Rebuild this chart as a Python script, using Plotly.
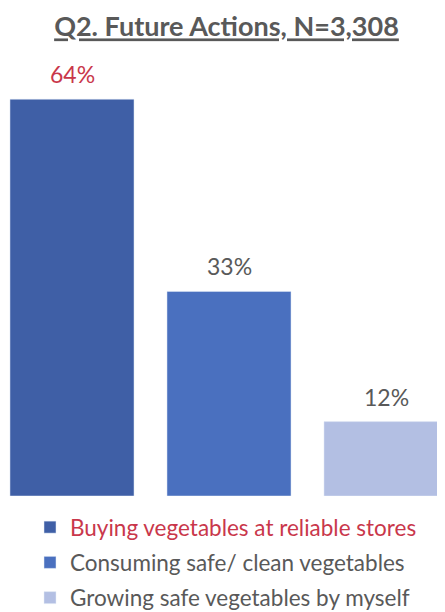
import plotly.graph_objects as go

categories = ["Buying vegetables at reliable stores",
              "Consuming safe/ clean vegetables",
              "Growing safe vegetables by myself"]
values = [64, 33, 12]
labels = ["64%", "33%", "12%"]
colors = ["#3F5FA6", "#4A70BF", "#B3BFE3"]
text_colors = ["#C9374B", "#595959", "#595959"]

W, H = 437, 604  # page body has an 8px margin

fig = go.Figure()
for i, (cat, v) in enumerate(zip(categories, values)):
    name = cat if i != 0 else f"<span style='color:{text_colors[0]}'>{cat}</span>"
    fig.add_trace(go.Bar(
        x=[i], y=[v], name=name, marker_color=colors[i], width=0.79,
        legendgroup=f"g{i}", showlegend=True,
    ))
    fig.add_annotation(x=i, y=v, text=labels[i], showarrow=False,
                       yanchor="bottom", yshift=9,
                       font=dict(size=23, color=text_colors[i], family="Lato"))

fig.update_layout(
    width=W, height=H,
    margin=dict(l=0, r=0, t=52, b=116),
    paper_bgcolor="white", plot_bgcolor="white",
    barmode="overlay",
    title=dict(text="<b><u>Q2. Future Actions, N=3,308</u></b>",
               x=0.5, xanchor="center", y=1 - 19 / H, yanchor="middle",
               font=dict(size=27, color="#595959", family="Lato")),
    xaxis=dict(range=[-64 / 157, -64 / 157 + W / 157], visible=False),
    yaxis=dict(range=[0, 436 / 6.2], visible=False),
    legend=dict(x=22 / W, xanchor="left", yref="container", y=1 - 498 / H,
                yanchor="top", traceorder="grouped", tracegroupgap=3,
                font=dict(size=22.5, color="#595959", family="Lato"),
                itemwidth=30),
    showlegend=True,
)
fig.write_html("out.html")
